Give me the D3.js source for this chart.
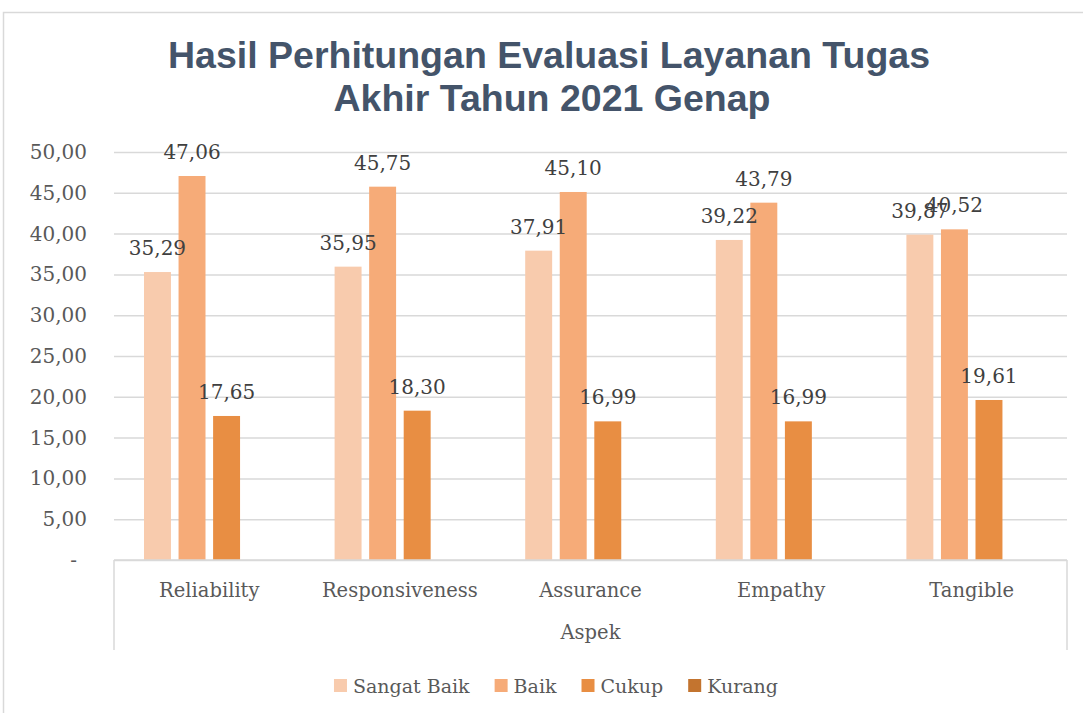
<!DOCTYPE html>
<html>
<head>
<meta charset="utf-8">
<script src="https://cdn.jsdelivr.net/npm/d3@7"></script>
<style>
	html, body { margin: 0; padding: 0; background: #fff; overflow: hidden; }
	svg { display: block; }
</style>
</head>
<body>
<div id="chart"></div>
<script>
// data
const categories = ["Reliability", "Responsiveness", "Assurance", "Empathy", "Tangible"];
const seriesNames = ["Sangat Baik", "Baik", "Cukup", "Kurang"];
const sangatBaik = [35.29, 35.95, 37.91, 39.22, 39.87];
const baik = [47.06, 45.75, 45.10, 43.79, 40.52];
const cukup = [17.65, 18.30, 16.99, 16.99, 19.61];
const kurang = [0, 0, 0, 0, 0];
const yTicks = [0, 5, 10, 15, 20, 25, 30, 35, 40, 45, 50];
const colors = ["#F8CBAD", "#F6AB78", "#E88E43", "#C3742F"];

const width = 1083;
const height = 713;
const plot = { left: 114, right: 1067, top: 152, bottom: 560 };
const serif = "'DejaVu Serif', serif";

const locale = d3.formatLocale({ decimal: ",", thousands: ".", grouping: [3], currency: ["", ""] });
const fmt = locale.format(",.2f");

const seriesValues = [sangatBaik, baik, cukup, kurang];
const rows = categories.map((cat, i) => ({
	category: cat,
	values: seriesNames.map((name, s) => ({ name, value: seriesValues[s][i], index: s })),
}));

const svg = d3
	.select("#chart")
	.append("svg")
	.attr("width", width)
	.attr("height", height);

// outer chart border
svg
	.append("rect")
	.attr("x", 3.5)
	.attr("y", 12.5)
	.attr("width", 1100)
	.attr("height", 720)
	.attr("fill", "#fff")
	.attr("stroke", "#d9d9d9")
	.attr("stroke-width", 1.5);

const y = d3.scaleLinear().domain([0, 50]).range([plot.bottom, plot.top]);
const x0 = d3.scaleBand().domain(categories).range([plot.left, plot.right]).padding(0);
const groupInset = 30;
const x1 = d3
	.scaleBand()
	.domain(d3.range(seriesNames.length))
	.range([groupInset, x0.bandwidth() - groupInset])
	.paddingInner(0.22);

// gridlines
svg
	.append("g")
	.attr("transform", `translate(${plot.left},0)`)
	.call(d3.axisLeft(y).tickValues(yTicks).tickSize(-(plot.right - plot.left)).tickFormat(() => ""))
	.call((g) => g.select(".domain").remove())
	.call((g) => g.selectAll("line").attr("stroke", "#d9d9d9").attr("stroke-width", 1.5));

// y tick labels
svg
	.append("g")
	.selectAll("text")
	.data(yTicks)
	.join("text")
	.attr("x", (d) => (d === 0 ? 77 : 87))
	.attr("y", (d) => y(d) + 7)
	.attr("text-anchor", "end")
	.attr("font-family", serif)
	.attr("font-size", 20)
	.attr("fill", "#595959")
	.text((d) => (d === 0 ? "-" : fmt(d)));

// bars
const groups = svg
	.append("g")
	.selectAll("g")
	.data(rows)
	.join("g")
	.attr("transform", (d) => `translate(${x0(d.category)},0)`);

groups
	.selectAll("rect")
	.data((d) => d.values)
	.join("rect")
	.attr("x", (d) => x1(d.index))
	.attr("width", x1.bandwidth())
	.attr("y", (d) => y(d.value))
	.attr("height", (d) => y(0) - y(d.value))
	.attr("fill", (d) => colors[d.index]);

groups
	.selectAll("text")
	.data((d) => d.values.filter((v) => v.value > 0))
	.join("text")
	.attr("x", (d) => x1(d.index) + x1.bandwidth() / 2)
	.attr("y", (d) => y(d.value) - 17)
	.attr("text-anchor", "middle")
	.attr("font-family", serif)
	.attr("font-size", 20)
	.attr("fill", "#404040")
	.text((d) => fmt(d.value));

// category axis box
const axisBox = svg.append("g").attr("stroke", "#d9d9d9").attr("stroke-width", 1.5);
axisBox.append("line").attr("x1", plot.left).attr("x2", plot.right).attr("y1", plot.bottom).attr("y2", plot.bottom);
axisBox.append("line").attr("x1", plot.left).attr("x2", plot.left).attr("y1", plot.bottom).attr("y2", 650);
axisBox.append("line").attr("x1", plot.right).attr("x2", plot.right).attr("y1", plot.bottom).attr("y2", 650);

svg
	.append("g")
	.selectAll("text")
	.data(categories)
	.join("text")
	.attr("x", (d) => x0(d) + x0.bandwidth() / 2)
	.attr("y", 597)
	.attr("text-anchor", "middle")
	.attr("font-family", serif)
	.attr("font-size", 19.5)
	.attr("fill", "#595959")
	.text((d) => d);

svg
	.append("text")
	.attr("x", (plot.left + plot.right) / 2)
	.attr("y", 639)
	.attr("text-anchor", "middle")
	.attr("font-family", serif)
	.attr("font-size", 19.5)
	.attr("fill", "#595959")
	.text("Aspek");

// title
const title = svg
	.append("text")
	.attr("text-anchor", "middle")
	.attr("font-family", "'Liberation Sans', Arial, sans-serif")
	.attr("font-weight", 700)
	.attr("font-size", 37.5)
	.attr("fill", "#44546A");
title.append("tspan").attr("x", 549).attr("y", 68).text("Hasil Perhitungan Evaluasi Layanan Tugas");
title.append("tspan").attr("x", 552).attr("y", 111).text("Akhir Tahun 2021 Genap");

// legend
const legend = svg.append("g");
const items = legend
	.selectAll("g")
	.data(seriesNames)
	.join("g");
items
	.append("rect")
	.attr("width", 13)
	.attr("height", 13)
	.attr("y", 679)
	.attr("fill", (d, i) => colors[i]);
items
	.append("text")
	.attr("x", 19)
	.attr("y", 693)
	.attr("font-family", serif)
	.attr("font-size", 19)
	.attr("fill", "#595959")
	.text((d) => d);

let cursor = 0;
const offsets = [];
items.each(function () {
	offsets.push(cursor);
	const w = d3.select(this).select("text").node().getComputedTextLength();
	cursor += 19 + w + 25;
});
const total = cursor - 25;
const startX = 556 - total / 2;
items.attr("transform", (d, i) => `translate(${startX + offsets[i]},0)`);
</script>
</body>
</html>
